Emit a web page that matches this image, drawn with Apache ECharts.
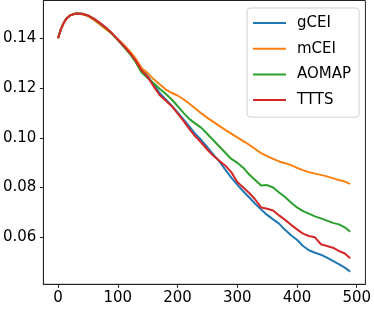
<!DOCTYPE html>
<html><head><meta charset="utf-8">
<script src="https://cdn.jsdelivr.net/npm/echarts@6/dist/echarts.min.js"></script>
<style>html,body{margin:0;padding:0;background:#fff}#c{width:374px;height:310px}</style>
</head><body><div id="c"></div>
<script>
const steps = [0,5,10,15,20,30,40,50,60,70,80,90,100,110,120,130,140,150,160,170,180,190,200,210,220,230,240,250,260,270,280,290,300,310,320,330,340,350,360,370,380,390,400,410,420,430,440,450,460,470,480,489];
const seriesNames = ['gCEI','mCEI','AOMAP','TTTS'];
const gCEI = [0.1400,0.1438,0.1464,0.1482,0.1492,0.1500,0.1499,0.1492,0.1478,0.1461,0.1442,0.1420,0.1395,0.1371,0.1344,
  0.1312,0.1275,0.1248,0.1215,0.1180,0.1155,0.1130,0.1102,0.1074,0.1045,0.1015,0.0990,0.0962,0.0932,0.0905,0.0872,0.0840,0.0812,0.0785,0.0760,0.0735,0.0712,0.0690,0.0672,0.0655,0.0630,0.0608,0.0590,0.0565,0.0548,0.0538,0.0530,0.0518,0.0505,0.0492,0.0478,0.0462];
const mCEI = [0.1400,0.1438,0.1464,0.1482,0.1492,0.1500,0.1497,0.1489,0.1474,0.1456,0.1437,0.1418,0.1396,0.1373,0.1348,
  0.1318,0.1280,0.1260,0.1236,0.1215,0.1195,0.1181,0.1170,0.1155,0.1137,0.1118,0.1098,0.1080,0.1064,0.1048,0.1032,0.1017,0.1002,0.0987,0.0972,0.0955,0.0938,0.0926,0.0915,0.0905,0.0898,0.0890,0.0879,0.0870,0.0862,0.0856,0.0851,0.0845,0.0838,0.0830,0.0824,0.0815];
const AOMAP = [0.1400,0.1438,0.1464,0.1482,0.1492,0.1500,0.1499,0.1492,0.1478,0.1460,0.1441,0.1419,0.1393,0.1366,0.1338,
  0.1304,0.1262,0.1240,0.1219,0.1197,0.1177,0.1155,0.1128,0.1100,0.1075,0.1057,0.1040,0.1015,0.0990,0.0965,0.0940,0.0915,0.0900,0.0880,0.0852,0.0830,0.0808,0.0810,0.0800,0.0780,0.0762,0.0740,0.0720,0.0705,0.0695,0.0684,0.0676,0.0667,0.0658,0.0652,0.0640,0.0622];
const TTTS = [0.1400,0.1438,0.1464,0.1482,0.1492,0.1500,0.1499,0.1492,0.1479,0.1462,0.1443,0.1421,0.1395,0.1370,0.1342,
  0.1310,0.1271,0.1245,0.1207,0.1172,0.1150,0.1128,0.1098,0.1068,0.1035,0.1005,0.0980,0.0952,0.0928,0.0908,0.0888,0.0862,0.0822,0.0800,0.0778,0.0752,0.0720,0.0715,0.0708,0.0688,0.0670,0.0650,0.0632,0.0615,0.0605,0.0600,0.0572,0.0565,0.0558,0.0545,0.0535,0.0516];
const xTicks = [0,100,200,300,400,500];
const yTicks = [0.06,0.08,0.10,0.12,0.14];
const colors = ['#1f77b4','#ff7f0e','#2ca02c','#d62728'];
const values = [gCEI, mCEI, AOMAP, TTTS];

const font = 'DejaVu Sans';
const chart = echarts.init(document.getElementById('c'), null, {renderer:'canvas'});
chart.setOption({
  animation: false,
  backgroundColor: '#fff',
  grid: {left: 41, right: 6.5, top: 0.5, bottom: 25.7, show: true, borderColor: '#222', borderWidth: 1, backgroundColor: 'transparent'},
  legend: {
    orient: 'vertical', left: 247, top: 8,
    padding: [6, 8, 8, 6], itemGap: 7.7,
    itemWidth: 33, itemHeight: 2, icon: 'rect',
    borderColor: '#d0d0d0', borderWidth: 1, borderRadius: 3,
    backgroundColor: 'rgba(255,255,255,0.8)',
    textStyle: {fontFamily: font, fontSize: 15, color: '#000', lineHeight: 18, padding: [0,0,0,6]},
    data: seriesNames
  },
  xAxis: {
    type: 'value', min: -24.5, max: 514.5,
    axisLine: {show: true, onZero: false, lineStyle: {color: '#222', width: 1}},
    axisTick: {show: true, length: 3.5, lineStyle: {color: '#222'}, customValues: xTicks},
    axisLabel: {fontFamily: font, fontSize: 15, color: '#000', margin: 6, customValues: xTicks, formatter: v => String(v)},
    splitLine: {show: false}
  },
  yAxis: {
    type: 'value', min: 0.0411, max: 0.1552,
    axisLine: {show: true, onZero: false, lineStyle: {color: '#222', width: 1}},
    axisTick: {show: true, length: 3.5, lineStyle: {color: '#222'}, customValues: yTicks},
    axisLabel: {fontFamily: font, fontSize: 15, color: '#000', margin: 7, customValues: yTicks, formatter: v => v.toFixed(2)},
    splitLine: {show: false}
  },
  series: seriesNames.map((n, i) => ({
    name: n, type: 'line', showSymbol: false, symbol: 'none',
    data: steps.map((s, j) => [s, values[i][j]]),
    lineStyle: {color: colors[i], width: 2},
    itemStyle: {color: colors[i]},
    z: 2 + i
  }))
});
</script></body></html>
